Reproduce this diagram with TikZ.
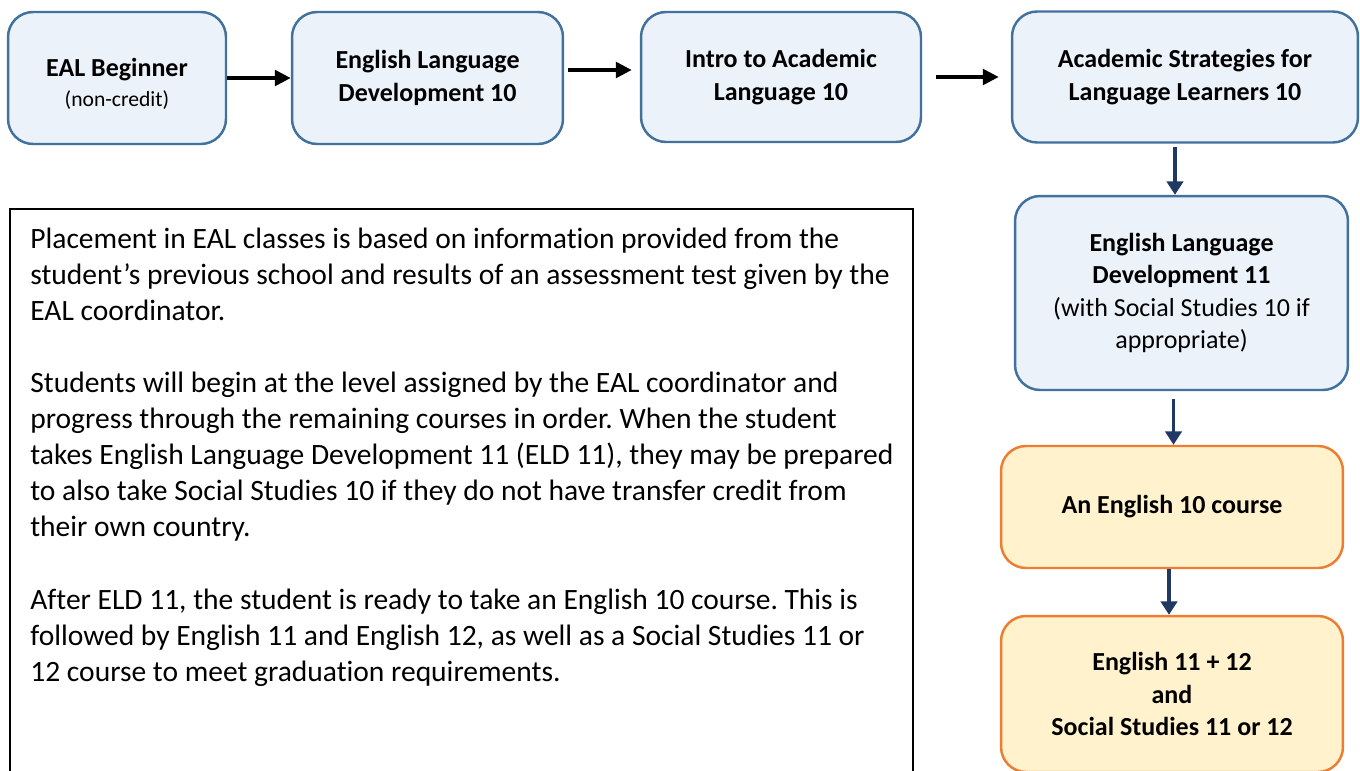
\documentclass[tikz,border=0pt]{standalone}
\usepackage{fontspec}
\setmainfont{Carlito}[Ligatures=NoCommon]
\usetikzlibrary{positioning,arrows.meta}
\definecolor{boxblue}{HTML}{EBF2FA}
\definecolor{edgeblue}{HTML}{41719C}
\definecolor{boxorange}{HTML}{FFF2CC}
\definecolor{edgeorange}{HTML}{ED7D31}
\definecolor{navy}{HTML}{203864}
\frenchspacing

\begin{document}
\begin{tikzpicture}[x=0.02cm,y=-0.02cm,
  every node/.style={font=\fontsize{14.8}{18.2}\selectfont},
  course/.style={draw=edgeblue,fill=boxblue,line width=1.4pt,rounded corners=0.5cm,
    align=center,inner sep=0pt,font=\fontsize{14.8}{18.4}\selectfont\bfseries},
  later/.style={course,draw=edgeorange,fill=boxorange},
  flow/.style={-{Triangle[length=0.32cm,width=0.31cm]},line width=2.2pt},
  down/.style={-{Triangle[length=0.27cm,width=0.33cm]},line width=1.8pt,navy}
]
  \useasboundingbox (0,0) rectangle (1360,771);
  % course boxes, top row
  \node[course,minimum width=4.36cm,minimum height=2.64cm] (b1) at (117,78)
    {\rule{0pt}{17pt}EAL Beginner\\[-1pt]{\normalfont\fontsize{12.3}{14}\selectfont (non-credit)}};
  \node[course,minimum width=5.42cm,minimum height=2.64cm] (b2) at (427.5,78)
    {English Language\\Development 10};
  \node[course,minimum width=5.6cm,minimum height=2.6cm] (b3) at (781,77)
    {Intro to Academic\\Language 10};
  \node[course,minimum width=6.92cm,minimum height=2.62cm] (b4) at (1185,77)
    {Academic Strategies for\\Language Learners 10};
  % right column
  \node[course,minimum width=6.66cm,minimum height=3.88cm] (b5) at (1181.5,293)
    {English Language\\Development 11\\{\normalfont (with Social Studies 10 if}\\{\normalfont appropriate)}};
  \node[later,minimum width=6.84cm,minimum height=2.44cm] (b6) at (1172,507)
    {An English 10 course};
  \node[later,minimum width=6.84cm,minimum height=3.12cm] (b7) at (1172,694)
    {English 11 + 12\\and\\Social Studies 11 or 12};
  \draw[flow] (b1.east) -- (b2.west);
  \draw[flow,shorten <=0.08cm,shorten >=0.16cm] ([yshift=0.16cm]b2.east) -- ([yshift=0.16cm]b2.east -| b3.west);
  \draw[flow,shorten <=0.28cm,shorten >=0.24cm] (b3.east) -- (b3.east -| b4.west);
  \draw[down,shorten <=0.06cm] ([xshift=-0.13cm]b5.north |- b4.south) -- ([xshift=-0.13cm]b5.north);
  \draw[down,shorten <=0.16cm] ([xshift=-0.16cm]b5.south) -- ([xshift=-0.16cm]b5.south |- b6.north);
  \draw[down] ([xshift=-0.06cm]b6.south) -- ([xshift=-0.06cm]b6.south |- b7.north);
  % note panel
  \draw[line width=1pt] (10,790) -- (10,209) -- (913,209) -- (913,790);
  \node[anchor=north west,inner sep=0pt,align=left,
    font=\fontsize{16.8}{20.5}\selectfont] (note) at (30,228)
    {Placement in EAL classes is based on information provided from the\\
     student’s previous school and results of an assessment test given by the\\
     EAL coordinator.\\[20.5pt]
     Students will begin at the level assigned by the EAL coordinator and\\
     progress through the remaining courses in order. When the student\\
     takes English Language Development 11 (ELD 11), they may be prepared\\
     to also take Social Studies 10 if they do not have transfer credit from\\
     their own country.\\[20.5pt]
     After ELD 11, the student is ready to take an English 10 course. This is\\
     followed by English 11 and English 12, as well as a Social Studies 11 or\\
     12 course to meet graduation requirements.};
\end{tikzpicture}
\end{document}
